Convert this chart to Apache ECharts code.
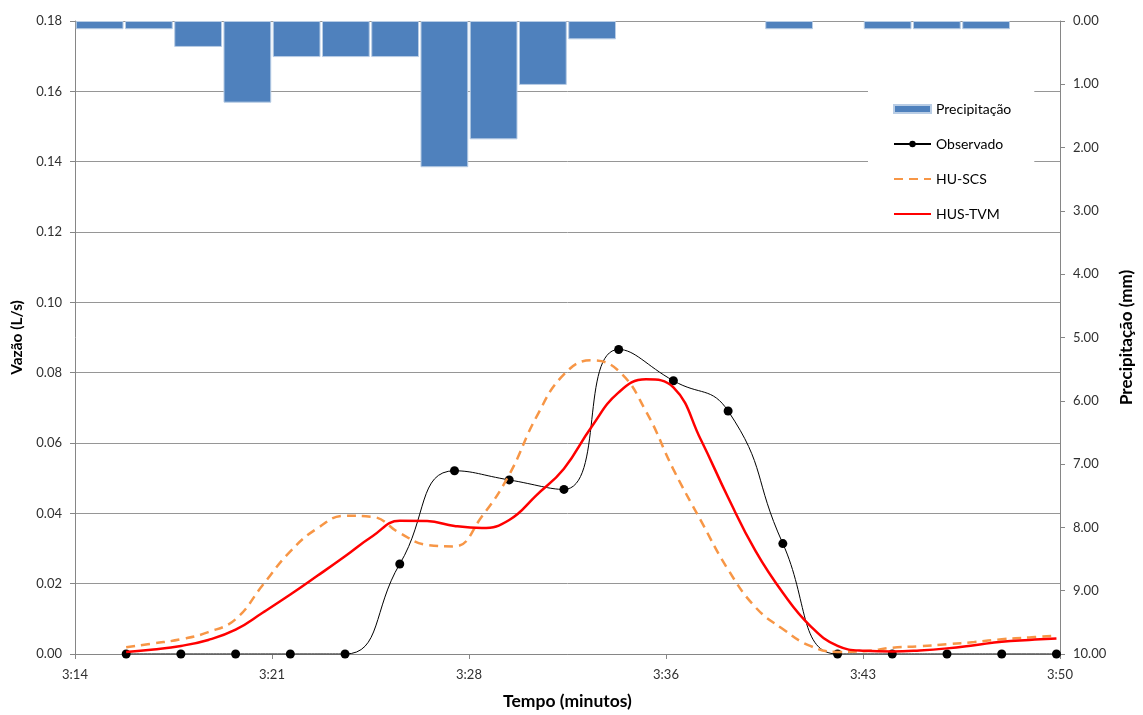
<!DOCTYPE html>
<html>
<head>
<meta charset="utf-8">
<script src="https://cdn.jsdelivr.net/npm/echarts@6/dist/echarts.min.js"></script>
<style>html,body{margin:0;padding:0;background:#fff}#c{width:1143px;height:715px}</style>
</head>
<body>
<div id="c"></div>
<script>
// minutes after 3:14
const timeLabels = ['3:14', '3:21', '3:28', '3:36', '3:43', '3:50'];
const rainCats = ['1','2','3','4','5','6','7','8','9','10','11','12','13','14','15','16','17','18','19','20'];
const rain = [0.13, 0.13, 0.41, 1.29, 0.57, 0.57, 0.57, 2.31, 1.87, 1.01, 0.29, 0, 0, 0, 0.13, 0, 0.13, 0.13, 0.13, 0];
const obsTime = [1.87, 3.87, 5.87, 7.87, 9.87, 11.87, 13.87, 15.87, 17.87, 19.87, 21.87, 23.87, 25.87, 27.87, 29.87, 31.87, 33.87, 35.87];
const observado = [0, 0, 0, 0, 0, 0.0256, 0.0521, 0.0495, 0.0468, 0.0866, 0.0777, 0.0691, 0.0314, 0, 0, 0, 0, 0];
const modelTime = [1.87, 2.87, 3.87, 4.87, 5.87, 6.87, 7.87, 8.87, 9.87, 10.87, 11.87, 12.87, 13.87, 14.87, 15.87, 16.87, 17.87, 18.87, 19.87, 20.87, 21.87, 22.87, 23.87, 24.87, 25.87, 26.87, 27.87, 28.87, 29.87, 30.87, 31.87, 32.87, 33.87, 34.87, 35.87];
const huScs = [0.0019, 0.0030, 0.0042, 0.0062, 0.0099, 0.0197, 0.0292, 0.0358, 0.0393, 0.0390, 0.0344, 0.0310, 0.0306, 0.0391, 0.0510, 0.0675, 0.0795, 0.0835, 0.0805, 0.0690, 0.0525, 0.0380, 0.0240, 0.0133, 0.0071, 0.0023, 0.0006, 0.0008, 0.0018, 0.0022, 0.0028, 0.0034, 0.0042, 0.0047, 0.0052];
const husTvm = [0.0006, 0.0013, 0.0023, 0.0040, 0.0069, 0.0118, 0.0169, 0.0223, 0.0278, 0.0335, 0.0379, 0.0378, 0.0364, 0.0358, 0.0381, 0.0452, 0.0527, 0.0645, 0.0744, 0.0781, 0.0758, 0.0610, 0.0445, 0.0293, 0.0174, 0.0080, 0.0023, 0.0009, 0.0007, 0.0010, 0.0016, 0.0025, 0.0035, 0.0040, 0.0044];

const pair = (t, v) => t.map((x, i) => [x, v[i]]);
const FONT = 'Lato, "Noto Sans", sans-serif';
const axisGray = '#868686';
const labelColor = '#303030';

const chart = echarts.init(document.getElementById('c'), null, {renderer: 'canvas'});
chart.setOption({
  animation: false,
  textStyle: {fontFamily: FONT},
  grid: {left: 75, right: 78, top: 21, bottom: 54, containLabel: false},
  legend: {
    orient: 'vertical', left: 868, top: 86,
    padding: [16, 23, 10, 25],
    backgroundColor: '#ffffff',
    itemWidth: 37, itemHeight: 8, itemGap: 21,
    textStyle: {fontFamily: FONT, fontSize: 14, color: '#000'},
    data: [
      {name: 'Precipitação', icon: 'rect'},
      {name: 'Observado'},
      {name: 'HU-SCS', itemStyle: {opacity: 0}},
      {name: 'HUS-TVM', itemStyle: {opacity: 0}}
    ]
  },
  xAxis: [
    {
      type: 'value', min: 0, max: 36, interval: 7.2,
      name: 'Tempo (minutos)', nameLocation: 'middle', nameGap: 38,
      nameTextStyle: {fontFamily: FONT, fontSize: 17.5, fontWeight: 'bold', color: '#000'},
      axisLine: {show: true, lineStyle: {color: axisGray}},
      axisTick: {show: true, length: 5, lineStyle: {color: axisGray}},
      axisLabel: {fontSize: 13, color: labelColor, margin: 14,
        formatter: v => timeLabels[Math.round(v / 7.2)]},
      splitLine: {show: false}
    },
    {
      type: 'category', data: rainCats, show: false, boundaryGap: true,
      gridIndex: 0
    }
  ],
  yAxis: [
    {
      type: 'value', min: 0, max: 0.18, interval: 0.02,
      name: 'Vazão (L/s)', nameLocation: 'middle', nameGap: 49,
      nameTextStyle: {fontFamily: FONT, fontSize: 15.5, fontWeight: 'bold', color: '#000'},
      axisLine: {show: true, lineStyle: {color: axisGray}},
      axisTick: {show: true, length: 5, lineStyle: {color: axisGray}},
      axisLabel: {fontSize: 13, color: labelColor, margin: 13, formatter: v => v.toFixed(2)},
      splitLine: {show: true, lineStyle: {color: '#969696', width: 1}}
    },
    {
      type: 'value', min: 0, max: 10, interval: 1, inverse: true, position: 'right',
      name: 'Precipitação (mm)', nameLocation: 'middle', nameGap: 58,
      nameTextStyle: {fontFamily: FONT, fontSize: 17, fontWeight: 'bold', color: '#000'},
      axisLine: {show: true, lineStyle: {color: axisGray}},
      axisTick: {show: true, length: 5, lineStyle: {color: axisGray}},
      axisLabel: {fontSize: 13, color: labelColor, margin: 13, formatter: v => v.toFixed(2)},
      splitLine: {show: false}
    }
  ],
  series: [
    {
      name: 'Precipitação', type: 'bar', xAxisIndex: 1, yAxisIndex: 1,
      data: rain.map(v => (v === 0 ? null : v)), barCategoryGap: '3%',
      itemStyle: {color: '#4F81BD', borderColor: '#b9cde5', borderWidth: 1},
      z: 1
    },
    {
      name: 'Observado', type: 'line', xAxisIndex: 0, yAxisIndex: 0,
      data: pair(obsTime, observado), smooth: 0.5,
      symbol: 'circle', symbolSize: 9,
      lineStyle: {color: '#000', width: 1},
      itemStyle: {color: '#000'},
      z: 3
    },
    {
      name: 'HU-SCS', type: 'line', xAxisIndex: 0, yAxisIndex: 0,
      data: pair(modelTime, huScs), smooth: 0.45, symbol: 'none',
      lineStyle: {color: '#F79646', width: 2.5, type: [9, 6]},
      itemStyle: {color: '#F79646'},
      z: 4
    },
    {
      name: 'HUS-TVM', type: 'line', xAxisIndex: 0, yAxisIndex: 0,
      data: pair(modelTime, husTvm), smooth: 0.45, symbol: 'none',
      lineStyle: {color: '#FF0000', width: 2.5},
      itemStyle: {color: '#FF0000'},
      z: 5
    }
  ]
});
</script>
</body>
</html>
